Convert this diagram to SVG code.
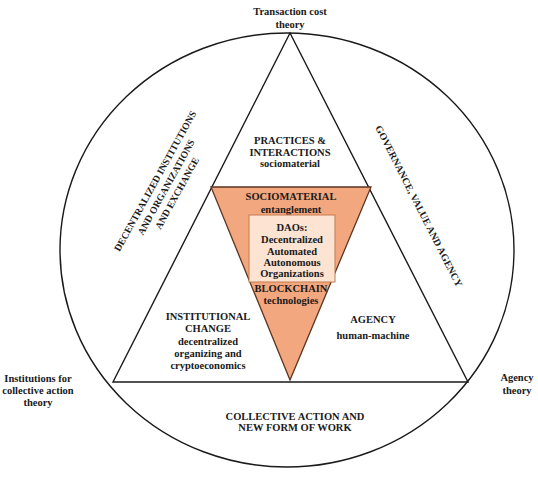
<svg xmlns="http://www.w3.org/2000/svg" width="538" height="482" viewBox="0 0 538 482">
<style>
text{font-family:"Liberation Serif","Times New Roman",serif;font-weight:bold;font-size:10.5px;fill:#1a1a1a;text-anchor:middle}
.line{fill:none;stroke:#1a1a1a;stroke-width:1.4}
.rot{font-size:9.8px}
</style>
<rect width="538" height="482" fill="#fff"/>
<g id="connectors">
<ellipse class="line" cx="287" cy="250" rx="227" ry="217"/>
<polygon class="line" points="290,33 113,382 468,382"/>
</g>
<g id="blockchain">
<polygon points="211,187 371,187 290,380" fill="#F3A77E" stroke="#5a3522" stroke-width="1.3"/>
<text x="291" y="200">SOCIOMATERIAL</text>
<text x="291" y="213">entanglement</text>
<text x="291" y="292">BLOCKCHAIN</text>
<text x="291" y="304">technologies</text>
</g>
<g id="daos">
<rect x="249" y="215" width="86" height="67" fill="#FCE3D2" stroke="#C57A4C" stroke-width="1"/>
<text x="292" y="231">DAOs:</text>
<text x="292" y="243">Decentralized</text>
<text x="292" y="255">Automated</text>
<text x="292" y="266">Autonomous</text>
<text x="292" y="277">Organizations</text>
</g>
<g id="practices">
<text x="290" y="144">PRACTICES &amp;</text>
<text x="290" y="156">INTERACTIONS</text>
<text x="290" y="167">sociomaterial</text>
</g>
<g id="institutional-change">
<text x="208" y="320">INSTITUTIONAL</text>
<text x="208" y="332">CHANGE</text>
<text x="208" y="345">decentralized</text>
<text x="208" y="357">organizing and</text>
<text x="208" y="369">cryptoeconomics</text>
</g>
<g id="agency">
<text x="373" y="323">AGENCY</text>
<text x="373" y="339">human-machine</text>
</g>
<g id="transaction-cost">
<text x="290" y="15">Transaction cost</text>
<text x="290" y="28">theory</text>
</g>
<g id="institutions-theory">
<text x="38" y="382">Institutions for</text>
<text x="38" y="394">collective action</text>
<text x="38" y="406">theory</text>
</g>
<g id="agency-theory">
<text x="517" y="381">Agency</text>
<text x="517" y="394">theory</text>
</g>
<g id="collective-action">
<text x="295" y="420">COLLECTIVE ACTION AND</text>
<text x="295" y="431">NEW FORM OF WORK</text>
</g>
<g id="decentralized" transform="translate(155,181) rotate(-61)">
<text class="rot" x="0" y="3.5">DECENTRALIZED INSTITUTIONS</text>
<text class="rot" x="0" y="16">AND ORGANIZATIONS</text>
<text class="rot" x="0" y="28.5">AND EXCHANGE</text>
</g>
<g id="governance" transform="translate(419,206) rotate(63)">
<text x="0" y="3.5" style="font-size:10px">GOVERNANCE, VALUE AND AGENCY</text>
</g>
</svg>
